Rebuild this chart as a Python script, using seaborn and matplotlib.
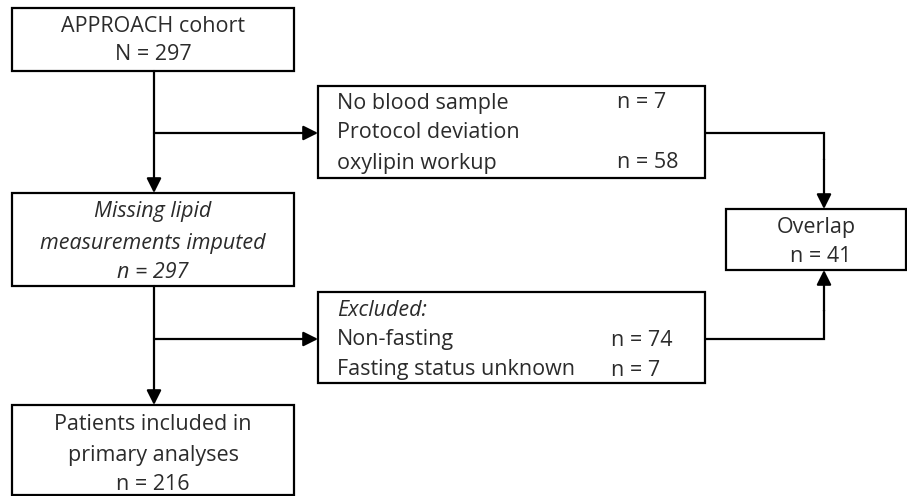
#!/usr/bin/env python3
"""
APPROACH 队列流程图
"""

import matplotlib.pyplot as plt
import seaborn as sns
from matplotlib.patches import Rectangle

sns.set_theme(style='white')
plt.rcParams['font.family'] = ['Open Sans', 'DejaVu Sans']

# 数据
cohort_label = ['APPROACH cohort']
cohort_n = 297
imputed_label = ['Missing lipid', 'measurements imputed']
imputed_n = 297
excl1_labels = ['No blood sample', 'Protocol deviation', 'oxylipin workup']
excl1_counts = [7, None, 58]
excl2_title = 'Excluded:'
excl2_labels = ['Non-fasting', 'Fasting status unknown']
excl2_counts = [74, 7]
overlap_label = 'Overlap'
overlap_n = 41
final_label = ['Patients included in', 'primary analyses']
final_n = 216

TXT = '#2b2b2b'
LW = 1.6
FS = 15.5

fig = plt.figure(figsize=(9.07, 4.96), dpi=100)
ax = fig.add_axes([0, 0, 1, 1])
ax.set_xlim(0, 907)
ax.set_ylim(496, 0)
ax.axis('off')


def box(x0, y0, x1, y1):
    ax.add_patch(Rectangle((x0, y0), x1 - x0, y1 - y0, fill=False,
                           edgecolor='black', linewidth=LW))


def arrow(x0, y0, x1, y1):
    ax.annotate('', xy=(x1, y1), xytext=(x0, y0),
                arrowprops=dict(arrowstyle='-|>', color='black', lw=LW,
                                mutation_scale=22, shrinkA=0, shrinkB=0))


def line(xs, ys):
    ax.plot(xs, ys, color='black', lw=LW, solid_capstyle='butt',
            solid_joinstyle='miter')


# 主框
box(12, 8, 294, 71)
ax.text(153, 27, cohort_label[0], ha='center', va='center', fontsize=FS, color=TXT)
ax.text(153, 55, f'N = {cohort_n}', ha='center', va='center', fontsize=FS, color=TXT)

box(12, 193, 294, 286)
ax.text(153, 212, imputed_label[0], ha='center', va='center', fontsize=FS, color=TXT, style='italic')
ax.text(153, 243, imputed_label[1], ha='center', va='center', fontsize=FS, color=TXT, style='italic')
ax.text(153, 272, f'n = {imputed_n}', ha='center', va='center', fontsize=FS, color=TXT, style='italic')

box(12, 405, 294, 495)
ax.text(153, 424, final_label[0], ha='center', va='center', fontsize=FS, color=TXT)
ax.text(153, 455, final_label[1], ha='center', va='center', fontsize=FS, color=TXT)
ax.text(153, 484, f'n = {final_n}', ha='center', va='center', fontsize=FS, color=TXT)

# 排除框 1
box(318, 86, 705, 178)
for i, (lab, cnt) in enumerate(zip(excl1_labels, excl1_counts)):
    y = 103 + i * 30
    ax.text(337, y, lab, ha='left', va='center', fontsize=FS, color=TXT)
    if cnt is not None:
        ax.text(617, y, f'n = {cnt}', ha='left', va='center', fontsize=FS, color=TXT)

# 排除框 2
box(318, 292, 705, 383)
ax.text(337, 310, excl2_title, ha='left', va='center', fontsize=FS, color=TXT, style='italic')
for i, (lab, cnt) in enumerate(zip(excl2_labels, excl2_counts)):
    y = 340 + i * 30
    ax.text(337, y, lab, ha='left', va='center', fontsize=FS, color=TXT)
    ax.text(611, y, f'n = {cnt}', ha='left', va='center', fontsize=FS, color=TXT)

# 重叠框
box(726, 209, 906, 270)
ax.text(816, 227, overlap_label, ha='center', va='center', fontsize=FS, color=TXT)
ax.text(821, 257, f'n = {overlap_n}', ha='center', va='center', fontsize=FS, color=TXT)

# 连接线
arrow(154, 71, 154, 193)
arrow(154, 133, 318, 133)
arrow(154, 286, 154, 405)
arrow(154, 339, 318, 339)

line([705, 824, 824], [133, 133, 160])
arrow(824, 159, 824, 209)
line([705, 824, 824], [339, 339, 310])
arrow(824, 311, 824, 270)

plt.savefig('out.png', dpi=100)
plt.close()
